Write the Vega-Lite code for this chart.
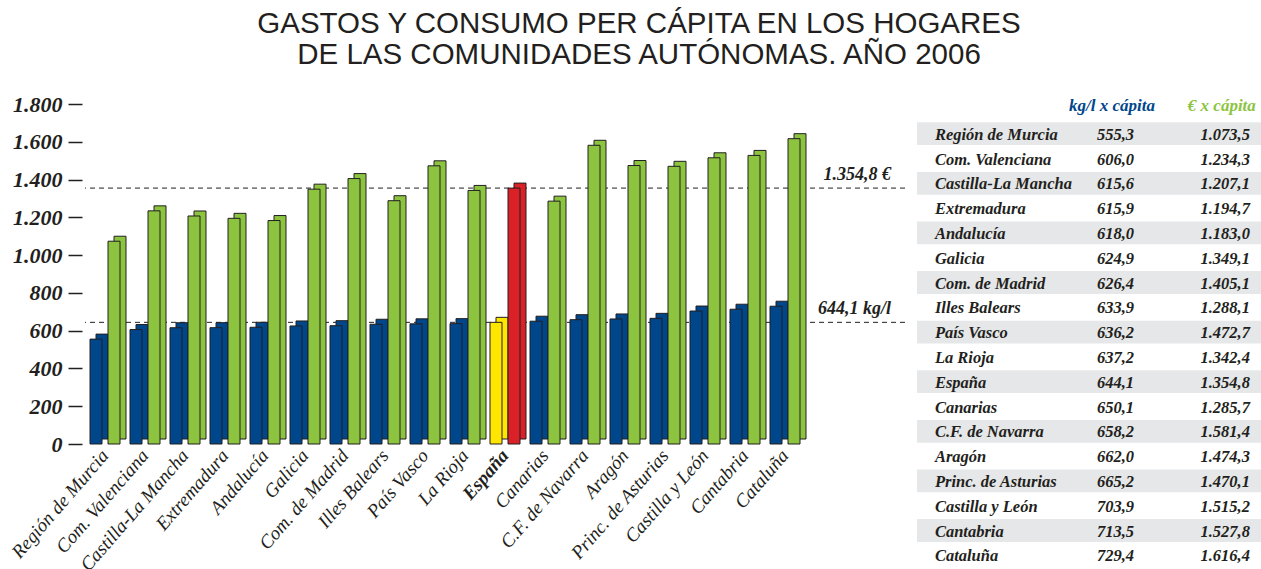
{
  "$schema": "https://vega.github.io/schema/vega-lite/v6.json",
  "autosize": {"type": "none"},
  "width": 820,
  "height": 340,
  "padding": {"left": 85, "top": 104, "right": 356, "bottom": 125},
  "background": "#ffffff",
  "config": {
    "view": {"stroke": null},
    "locale": {"number": {"decimal": ",", "thousands": ".", "grouping": [3], "currency": ["", " €"]}},
    "axisY": {"tickCount": 10, "labelOverlap": false}
  },
  "title": {
    "text": ["GASTOS Y CONSUMO PER CÁPITA EN LOS HOGARES", "DE LAS COMUNIDADES AUTÓNOMAS. AÑO 2006"],
    "font": "Liberation Sans",
    "fontSize": 29.5,
    "fontWeight": "normal",
    "color": "#231f20",
    "anchor": "middle",
    "dx": 144,
    "lineHeight": 31,
    "offset": 23
  },
  "datasets": {
    "d": [
      {"region": "Región de Murcia", "kg": 555.3, "eur": 1073.5},
      {"region": "Com. Valenciana", "kg": 606.0, "eur": 1234.3},
      {"region": "Castilla-La Mancha", "kg": 615.6, "eur": 1207.1},
      {"region": "Extremadura", "kg": 615.9, "eur": 1194.7},
      {"region": "Andalucía", "kg": 618.0, "eur": 1183.0},
      {"region": "Galicia", "kg": 624.9, "eur": 1349.1},
      {"region": "Com. de Madrid", "kg": 626.4, "eur": 1405.1},
      {"region": "Illes Balears", "kg": 633.9, "eur": 1288.1},
      {"region": "País Vasco", "kg": 636.2, "eur": 1472.7},
      {"region": "La Rioja", "kg": 637.2, "eur": 1342.4},
      {"region": "España", "kg": 644.1, "eur": 1354.8},
      {"region": "Canarias", "kg": 650.1, "eur": 1285.7},
      {"region": "C.F. de Navarra", "kg": 658.2, "eur": 1581.4},
      {"region": "Aragón", "kg": 662.0, "eur": 1474.3},
      {"region": "Princ. de Asturias", "kg": 665.2, "eur": 1470.1},
      {"region": "Castilla y León", "kg": 703.9, "eur": 1515.2},
      {"region": "Cantabria", "kg": 713.5, "eur": 1527.8},
      {"region": "Cataluña", "kg": 729.4, "eur": 1616.4}
    ],
    "refs": [
      {"v": 1354.8, "label": "1.354,8 €"},
      {"v": 644.1, "label": "644,1 kg/l"}
    ]
  },
  "layer": [
    {
      "layer": [
        {
          "data": {"name": "refs"},
          "mark": {"type": "rule", "strokeDash": [5, 4], "color": "#231f20", "strokeWidth": 1},
          "encoding": {
            "y": {"field": "v", "type": "quantitative", "scale": {"domain": [0, 1800], "nice": false},
              "axis": {"title": null, "domain": false, "grid": false, "values": [0, 200, 400, 600, 800, 1000, 1200, 1400, 1600, 1800], "tickCount": 10, "format": ",d", "labelOverlap": false, "tickSize": 14, "tickColor": "#231f20", "tickWidth": 1.5, "offset": 3, "labelFont": "Liberation Serif", "labelFontStyle": "italic", "labelFontWeight": "bold", "labelFontSize": 22, "labelColor": "#231f20", "labelPadding": 6}}
          }
        },
        {
          "data": {"name": "refs"},
          "mark": {"type": "text", "align": "right", "baseline": "alphabetic", "dy": -8, "dx": -14, "font": "Liberation Serif", "fontStyle": "italic", "fontWeight": "bold", "fontSize": 18, "color": "#231f20"},
          "encoding": {
            "y": {"field": "v", "type": "quantitative"},
            "x": {"value": "width"},
            "text": {"field": "label"}
          }
        },
        {
          "data": {"name": "d"},
          "mark": {"type": "bar", "yOffset": -5, "y2Offset": -5, "stroke": "#231f20", "strokeWidth": 1, "width": 12},
          "encoding": {
            "x": {"field": "region", "type": "nominal", "sort": null,
              "scale": {"range": [0, 720], "paddingInner": 0.1, "paddingOuter": 0.05},
              "axis": {"title": null, "domain": false, "ticks": false, "labelAngle": -49, "labelFont": "Liberation Serif", "labelFontStyle": "italic", "labelFontSize": 19, "labelColor": "#231f20", "labelPadding": 8, "labelOverlap": false,
                "labelFontWeight": {"condition": {"test": "datum.value === 'España'", "value": "bold"}, "value": "normal"}}},
            "xOffset": {"datum": "kgb", "type": "nominal", "scale": {"domain": ["p0", "kg", "kgb", "p3", "eur", "eurb"], "paddingInner": 0, "paddingOuter": 0}},
            "y": {"field": "kg", "type": "quantitative"},
            "y2": {"datum": 0},
            "fill": {"condition": {"test": "datum.region === 'España'", "value": "#ffe600"}, "value": "#00468b"}
          }
        },
        {
          "data": {"name": "d"},
          "mark": {"type": "bar", "stroke": "#231f20", "strokeWidth": 1, "width": 12},
          "encoding": {
            "x": {"field": "region", "type": "nominal", "sort": null},
            "xOffset": {"datum": "kg", "type": "nominal"},
            "y": {"field": "kg", "type": "quantitative"},
            "y2": {"datum": 0},
            "fill": {"condition": {"test": "datum.region === 'España'", "value": "#ffe600"}, "value": "#00468b"}
          }
        },
        {
          "data": {"name": "d"},
          "mark": {"type": "bar", "yOffset": -5, "y2Offset": -5, "stroke": "#231f20", "strokeWidth": 1, "width": 12},
          "encoding": {
            "x": {"field": "region", "type": "nominal", "sort": null},
            "xOffset": {"datum": "eurb", "type": "nominal"},
            "y": {"field": "eur", "type": "quantitative"},
            "y2": {"datum": 0},
            "fill": {"condition": {"test": "datum.region === 'España'", "value": "#da2128"}, "value": "#8cc43f"}
          }
        },
        {
          "data": {"name": "d"},
          "mark": {"type": "bar", "stroke": "#231f20", "strokeWidth": 1, "width": 12},
          "encoding": {
            "x": {"field": "region", "type": "nominal", "sort": null},
            "xOffset": {"datum": "eur", "type": "nominal"},
            "y": {"field": "eur", "type": "quantitative"},
            "y2": {"datum": 0},
            "fill": {"condition": {"test": "datum.region === 'España'", "value": "#da2128"}, "value": "#8cc43f"}
          }
        }
      ]
    },
    {
      "layer": [
        {
          "data": {"name": "d"},
          "transform": [
            {"window": [{"op": "row_number", "as": "rn"}]},
            {"filter": "datum.rn % 2 == 1"}
          ],
          "mark": {"type": "bar", "color": "#e6e7e8", "height": {"band": 0.92}},
          "encoding": {
            "x": {"datum": 0, "type": "quantitative", "scale": {"domain": [0, 100], "range": [832, 1176]}, "axis": null},
            "x2": {"datum": 100},
            "y": {"field": "region", "type": "nominal", "sort": null,
              "scale": {"domain": ["header", "Región de Murcia", "Com. Valenciana", "Castilla-La Mancha", "Extremadura", "Andalucía", "Galicia", "Com. de Madrid", "Illes Balears", "País Vasco", "La Rioja", "España", "Canarias", "C.F. de Navarra", "Aragón", "Princ. de Asturias", "Castilla y León", "Cantabria", "Cataluña"], "range": [-7.5, 463.7], "paddingInner": 0, "paddingOuter": 0},
              "axis": null}
          }
        },
        {
          "data": {"values": [{"h": "kg/l x cápita"}]},
          "mark": {"type": "text", "align": "right", "baseline": "middle", "dy": -3, "font": "Liberation Serif", "fontStyle": "italic", "fontWeight": "bold", "fontSize": 17, "color": "#00468b"},
          "encoding": {
            "x": {"datum": 69.2, "type": "quantitative"},
            "y": {"datum": "header", "type": "nominal"},
            "text": {"field": "h"}
          }
        },
        {
          "data": {"values": [{"h": "€ x cápita"}]},
          "mark": {"type": "text", "align": "right", "baseline": "middle", "dy": -3, "font": "Liberation Serif", "fontStyle": "italic", "fontWeight": "bold", "fontSize": 17, "color": "#8cc43f"},
          "encoding": {
            "x": {"datum": 98.5, "type": "quantitative"},
            "y": {"datum": "header", "type": "nominal"},
            "text": {"field": "h"}
          }
        },
        {
          "data": {"name": "d"},
          "mark": {"type": "text", "align": "left", "baseline": "middle", "dy": 1, "font": "Liberation Serif", "fontStyle": "italic", "fontWeight": "bold", "fontSize": 16.5, "color": "#231f20"},
          "encoding": {
            "x": {"datum": 5.2, "type": "quantitative"},
            "y": {"field": "region", "type": "nominal", "sort": null},
            "text": {"field": "region"}
          }
        },
        {
          "data": {"name": "d"},
          "mark": {"type": "text", "align": "left", "baseline": "middle", "dy": 1, "font": "Liberation Serif", "fontStyle": "italic", "fontWeight": "bold", "fontSize": 16.5, "color": "#231f20"},
          "encoding": {
            "x": {"datum": 52.3, "type": "quantitative"},
            "y": {"field": "region", "type": "nominal", "sort": null},
            "text": {"field": "kg", "type": "quantitative", "format": ",.1f"}
          }
        },
        {
          "data": {"name": "d"},
          "mark": {"type": "text", "align": "right", "baseline": "middle", "dy": 1, "font": "Liberation Serif", "fontStyle": "italic", "fontWeight": "bold", "fontSize": 16.5, "color": "#231f20"},
          "encoding": {
            "x": {"datum": 96.8, "type": "quantitative"},
            "y": {"field": "region", "type": "nominal", "sort": null},
            "text": {"field": "eur", "type": "quantitative", "format": ",.1f"}
          }
        }
      ]
    }
  ],
  "resolve": {"scale": {"x": "independent", "y": "independent"}}
}
